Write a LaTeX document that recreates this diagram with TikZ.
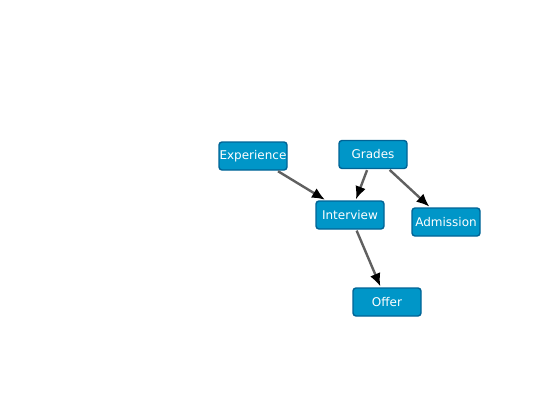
\documentclass[tikz,border=0pt]{standalone}
\usepackage{fontspec}
\setmainfont{DejaVu Sans}
\usetikzlibrary{arrows.meta}
\definecolor{boxfill}{RGB}{0,150,200}
\definecolor{boxline}{RGB}{0,100,150}
\definecolor{edgegray}{RGB}{96,96,96}
\begin{document}
\begin{tikzpicture}[x=1pt,y=-1pt,
  box/.style={draw=boxline, fill=boxfill, line width=1.4pt, rounded corners=3pt,
    minimum width=68pt, minimum height=28pt, inner sep=0pt, text=white,
    font=\fontsize{12}{13}\selectfont},
  edge/.style={draw=edgegray, line width=2.4pt, -{Latex[length=13pt,width=11pt,black,fill=black]}, shorten >=1pt, shorten <=1pt}]
\useasboundingbox (0,0) rectangle (550,400);
\node[box] (exp) at (253,156) {Experience};
\node[box] (gra) at (373,154.5) {Grades};
\node[box] (int) at (350,215) {Interview};
\node[box] (adm) at (446,222) {Admission};
\node[box] (off) at (387,302) {Offer};
\draw[edge] (exp) -- (int);
\draw[edge] (gra) -- (int);
\draw[edge] (gra) -- (adm);
\draw[edge] (int) -- (off);
\end{tikzpicture}
\end{document}
